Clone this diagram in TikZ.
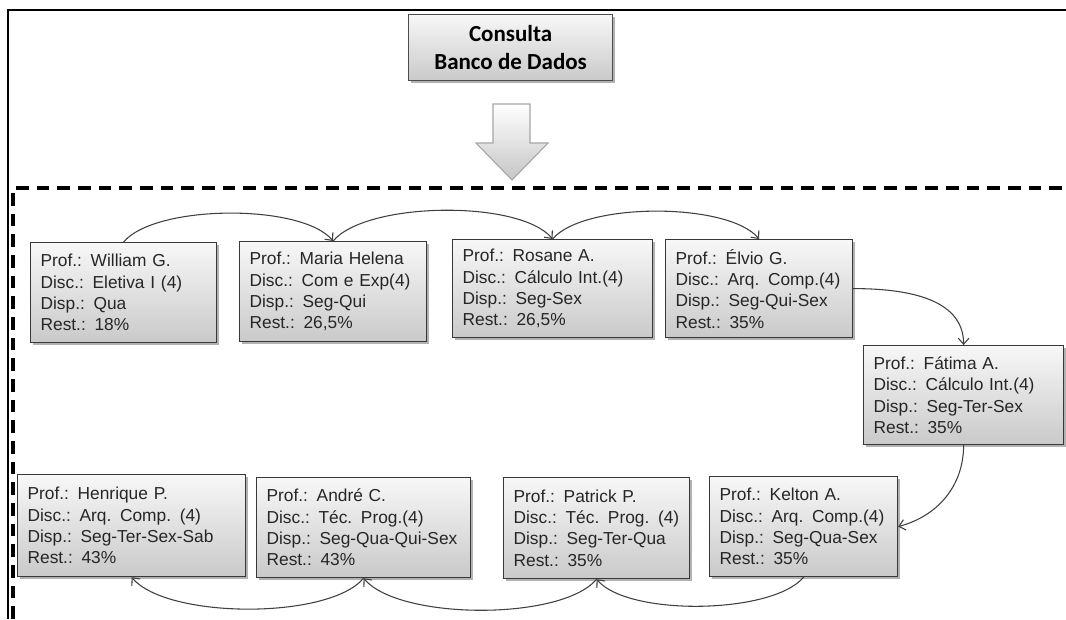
\documentclass[tikz,border=0pt]{standalone}
\usepackage{fontspec}
\setmainfont{Liberation Sans}
\newfontfamily\calib{Carlito}
\usetikzlibrary{arrows.meta,shadows}
\begin{document}
\begin{tikzpicture}[x=0.75pt,y=0.75pt,
  profbox/.style={rectangle, draw=black!78, line width=0.9pt, top color=gray!6, bottom color=gray!42,
    drop shadow={shadow xshift=1.6pt, shadow yshift=-1.6pt, fill=black, opacity=0.3},
    align=left, anchor=north west, inner xsep=7.5pt, inner ysep=2pt,
    font=\fontsize{13}{16}\selectfont, text=black!85},
  conn/.style={draw=black!75, line width=0.8pt, -{Straight Barb[length=4.5pt,width=8pt]}},
  frame/.style={draw=black, line width=1.5pt},
  dframe/.style={draw=black, line width=2.4pt, dash pattern=on 9.5pt off 6pt}
]
\useasboundingbox (0,0) rectangle (1066,619);
\fill[white] (0,0) rectangle (1066,619);

% frames
\draw[frame] (8,0) -- (8,609) -- (1066,609);
\draw[dframe] (13,0) -- (13,431) -- (1066,431);

% database query box
\node[rectangle, draw=black!70, line width=0.9pt, top color=gray!6, bottom color=gray!42,
  drop shadow={shadow xshift=1.6pt, shadow yshift=-1.6pt, fill=black, opacity=0.3},
  anchor=north west, minimum width=153pt, minimum height=49.5pt, align=center,
  font=\calib\bfseries\fontsize{17.25}{21}\selectfont] (db) at (408,605) {Consulta\\Banco de Dados};

% block arrow
\draw[draw=gray!70, line width=0.8pt, top color=white, bottom color=gray!45]
  (493,515) -- (530,515) -- (530,476) -- (548,476) -- (512,439) -- (476,476) -- (493,476) -- cycle;

% top row
\node[profbox, minimum width=139.5pt, text width=124.5pt, minimum height=75pt] (will) at (30,377)
  {Prof.: William G.\\Disc.: Eletiva I (4)\\Disp.: Qua\\Rest.: 18\%};
\node[profbox, minimum width=140.25pt, text width=125.25pt, minimum height=75pt] (maria) at (239,378)
  {Prof.: Maria Helena\\Disc.: Com e Exp(4)\\Disp.: Seg-Qui\\Rest.: 26,5\%};
\node[profbox, minimum width=150pt, text width=135pt, minimum height=73.5pt] (rosane) at (452,380)
  {Prof.: Rosane A.\\Disc.: Cálculo Int.(4)\\Disp.: Seg-Sex\\Rest.: 26,5\%};
\node[profbox, minimum width=140.25pt, text width=125.25pt, minimum height=73.5pt] (elvio) at (665,380)
  {Prof.: Élvio G.\\Disc.: Arq. Comp.(4)\\Disp.: Seg-Qui-Sex\\Rest.: 35\%};
\node[profbox, minimum width=150pt, text width=135pt, minimum height=74.25pt] (fatima) at (863,274)
  {Prof.: Fátima A.\\Disc.: Cálculo Int.(4)\\Disp.: Seg-Ter-Sex\\Rest.: 35\%};

% bottom row
\node[profbox, minimum width=171pt, text width=156pt, minimum height=76.5pt] (henrique) at (17,145)
  {Prof.: Henrique P.\\Disc.: Arq. Comp. (4)\\Disp.: Seg-Ter-Sex-Sab\\Rest.: 43\%};
\node[profbox, minimum width=160.5pt, text width=145.5pt, minimum height=75pt] (andre) at (256,142)
  {Prof.: André C.\\Disc.: Téc. Prog.(4)\\Disp.: Seg-Qua-Qui-Sex\\Rest.: 43\%};
\node[profbox, minimum width=139.5pt, text width=124.5pt, minimum height=75.75pt] (patrick) at (503,142)
  {Prof.: Patrick P.\\Disc.: Téc. Prog. (4)\\Disp.: Seg-Ter-Qua\\Rest.: 35\%};
\node[profbox, minimum width=141pt, text width=126pt, minimum height=75pt] (kelton) at (709,143)
  {Prof.: Kelton A.\\Disc.: Arq. Comp.(4)\\Disp.: Seg-Qua-Sex\\Rest.: 35\%};

% connectors
\draw[conn] (will.north) to[out=50,in=130,looseness=0.6] (maria.north);
\draw[conn] (maria.north) to[out=50,in=130,looseness=0.6] (rosane.north);
\draw[conn] (rosane.north) to[out=50,in=130,looseness=0.6] (elvio.north);
\draw[conn] (elvio.east) to[out=0,in=90] (fatima.north);
\draw[conn] (fatima.south) to[out=-90,in=15] (kelton.east);
\draw[conn] (kelton.south) to[out=-130,in=-50,looseness=0.6] (patrick.south);
\draw[conn] (patrick.south) to[out=-130,in=-50,looseness=0.6] (andre.south);
\draw[conn] (andre.south) to[out=-130,in=-50,looseness=0.6] (henrique.south);
\end{tikzpicture}
\end{document}
